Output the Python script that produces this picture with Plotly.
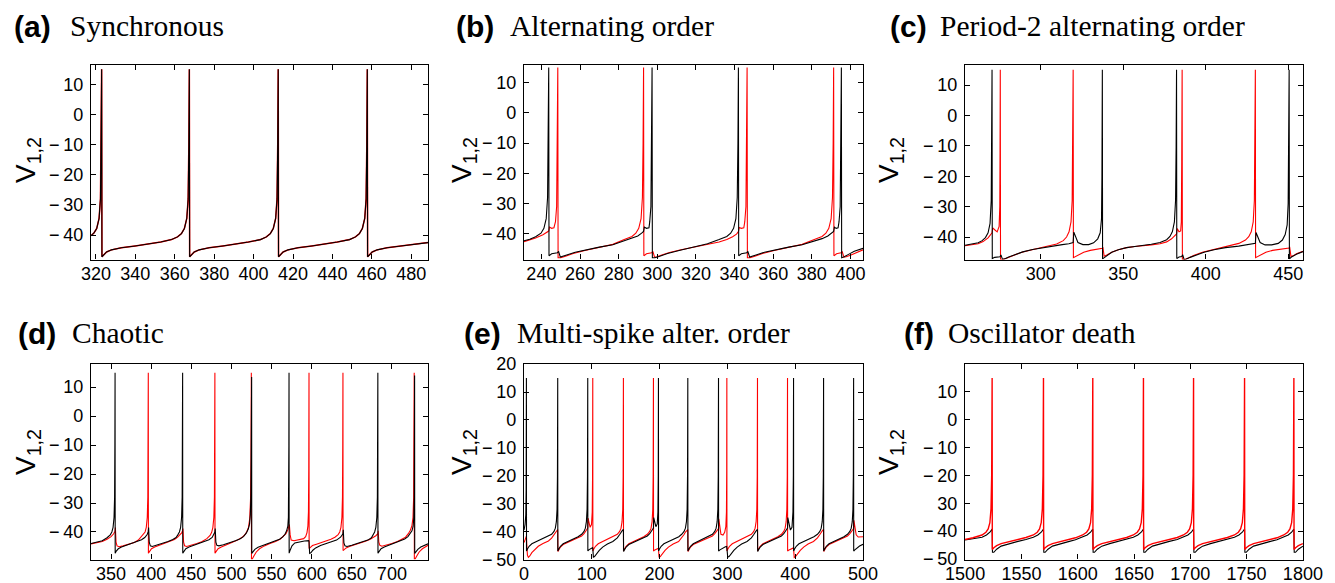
import plotly.graph_objects as go

# ---------------- data (time, membrane potential) ----------------
a_black = [(317.5,-40.2),(319,-39.3),(320.4,-37.8),(321.6,-34.5),(322.3,-28),(322.65,-10),(322.9,15),
(323.05,-47.2),(323.9,-46.6),(325.4,-45.6),(327.9,-44.9),(332.9,-44.2),(339.9,-43.6),(346.9,-43.0),(352.9,-42.3),(358.4,-41.5),(361.4,-40.6),(363.4,-39.5),(364.9,-37.8),(366.1,-34.5),(366.8,-28),(367.15,-10),(367.4,15),
(367.55,-47.2),(368.4,-46.6),(369.9,-45.6),(372.4,-44.9),(377.4,-44.2),(384.4,-43.6),(391.4,-43.0),(397.4,-42.3),(403.5,-41.5),(406.5,-40.6),(408.5,-39.5),(410.0,-37.8),(411.2,-34.5),(411.9,-28),(412.25,-10),(412.5,15),
(412.65,-47.2),(413.5,-46.6),(415.0,-45.6),(417.5,-44.9),(422.5,-44.2),(429.5,-43.6),(436.5,-43.0),(442.5,-42.3),(448.7,-41.5),(451.7,-40.6),(453.7,-39.5),(455.2,-37.8),(456.4,-34.5),(457.1,-28),(457.45,-10),(457.7,15),
(457.85,-47.2),(458.7,-46.6),(460.2,-45.6),(462.7,-44.9),(467.7,-44.2),(474.7,-43.6),(481.7,-43.0),(488.5,-42.5)]
a_red = list(a_black)

b_black = [(231,-42.3),(234,-41.8),(237,-41.0),(239.8,-39.8),(241.3,-38.2),(242.5,-35),(243.2,-28),(243.55,-10),(243.8,15),
(243.95,-47.3),(245.3,-46.6),(248.3,-46.3),(248.9,-45.8),(249.8,-47.7),(251,-47.5),(253.5,-46.9),(257.5,-46.1),(263.5,-45.2),(270,-44.4),(277,-43.6),(282.9,-42.3),(286.9,-41.6),(289.9,-40.7),(291.9,-39.8),(292.9,-39.2),(293.3,-37.8),(294.4,-38.2),(295.7,-38.0),(296.1,-36),(296.7,-31),(297.05,-12),(297.3,15),
(297.45,-47.9),(298.8,-47.9),(301.3,-47.4),(305.3,-46.5),(311.3,-45.5),(319.3,-44.4),(326,-43.3),(332,-41.9),(336,-40.9),(338,-39.8),(339.5,-38.2),(340.7,-35),(341.4,-28),(341.75,-10),(342,15),
(342.15,-47.3),(343.5,-46.6),(346.3,-46.3),(346.9,-45.8),(347.8,-47.7),(349,-47.5),(351.5,-46.9),(355.5,-46.1),(361.5,-45.2),(368,-44.4),(375,-43.6),(381.3,-42.4),(385.3,-41.6),(388.3,-40.7),(390.3,-39.8),(391.3,-39.2),(391.7,-37.8),(392.6,-38.2),(393.6,-38.0),(394.1,-36),(394.7,-31),(395.05,-12),(395.3,15),
(395.45,-47.9),(396.8,-47.6),(399,-46.8),(402,-45.8),(406.5,-44.8)]
b_red = [(231,-42.6),(234,-42.1),(237,-41.4),(240.8,-40.3),(242.8,-39.6),(243.8,-39.1),(244.2,-37.8),(245.3,-38.2),(246.5,-38.0),(247.3,-36),(247.9,-31),(248.25,-12),(248.5,15),
(248.65,-47.9),(250,-47.9),(252.5,-47.4),(256.5,-46.5),(262.5,-45.5),(270,-44.5),(277,-43.5),(282.9,-41.9),(286.9,-40.9),(288.9,-39.8),(290.4,-38.2),(291.6,-35),(292.3,-28),(292.65,-10),(292.9,15),
(293.05,-47.3),(294.4,-46.6),(297.1,-46.3),(297.7,-45.8),(298.6,-47.7),(299.8,-47.6),(302.3,-47.0),(306.3,-46.2),(312.3,-45.3),(319.3,-44.4),(326,-43.6),(332,-42.7),(336,-41.9),(339,-41.0),(341,-40.1),(342,-39.3),(342.4,-37.9),(343.5,-38.2),(344.8,-38.0),(345.3,-36),(345.9,-31),(346.25,-12),(346.5,15),
(346.65,-47.9),(348,-47.9),(350.5,-47.4),(354.5,-46.5),(360.5,-45.5),(368,-44.5),(375,-43.5),(381.3,-41.9),(385.3,-40.9),(387.3,-39.8),(388.8,-38.2),(390,-35),(390.7,-28),(391.05,-10),(391.3,15),
(391.45,-47.3),(392.8,-46.6),(395.1,-46.3),(395.7,-45.8),(396.6,-47.7),(397.8,-47.6),(400.3,-47.0),(403.5,-46.1),(406.5,-45.3)]

c_black = [(254,-42.7),(258,-42.4),(262,-41.9),(264.4,-41.2),(266.4,-40.2),(268,-38.6),(269.2,-35.5),(269.9,-28),(270.2,-10),(270.4,15),
(270.55,-47.1),(272,-46.7),(275.2,-46.5),(275.8,-45.9),(276.7,-47.3),(278,-47.2),(280.5,-46.6),(284,-45.8),(289,-44.9),(295,-44.1),(302,-43.4),(309.6,-42.8),(313,-42.5),(317,-42.2),(319.6,-41.8),(320.0,-38.4),(321,-39.8),(322.5,-41.8),(325.5,-42.5),(329,-42.5),(332,-41.9),(334.5,-40.6),(336,-38.6),(336.8,-34),(337.05,-20),(337.3,15),
(337.45,-47.2),(338.5,-46.8),(340,-46.0),(343,-45.0),(347,-44.2),(352,-43.5),(357,-43.1),(362,-42.8),(367,-42.4),(372.3,-41.8),(376.3,-40.9),(378.3,-39.8),(379.8,-38.2),(381,-35),(381.7,-28),(382.05,-10),(382.3,15),
(382.45,-47.1),(383.8,-46.6),(385.5,-46.4),(386.0,-45.8),(386.9,-47.4),(388,-47.3),(390.5,-46.7),(394,-45.9),(399,-45.0),(405,-44.2),(412,-43.5),(420,-43.0),(425,-42.6),(430.1,-42.1),(430.5,-38.5),(431.5,-40.0),(433,-41.8),(436,-42.6),(440,-42.6),(444,-42.1),(446.5,-41.0),(448.2,-39.2),(449.4,-36),(450.0,-29),(450.35,-10),(450.6,15),
(450.75,-47.2),(452,-46.6),(455,-45.7),(459,-44.8)]
c_red = [(254,-42.9),(258,-42.6),(262,-42.2),(265,-41.5),(268,-40.3),(270.4,-38.6),(270.8,-37.0),(272,-37.6),(273.5,-38.3),(274.7,-36.5),(275.1,-30),(275.25,-12),(275.4,15),
(275.55,-47.4),(277,-47.4),(279.5,-46.9),(283,-46.1),(288,-45.1),(294,-44.3),(301,-43.5),(305.6,-43.0),(309.6,-42.3),(313.6,-41.2),(315.6,-40.0),(317.1,-38.3),(318.3,-35),(319.0,-28),(319.35,-10),(319.6,15),
(319.75,-46.8),(321,-46.4),(323,-45.7),(326,-45.0),(330,-44.4),(334,-44.0),(337.3,-43.7),(337.6,-43.3),(338.4,-46.3),(340,-45.9),(343,-45.0),(347,-44.2),(352,-43.5),(357,-43.1),(362,-42.9),(367,-42.6),(372.3,-42.2),(376.3,-41.6),(379.3,-40.6),(381.3,-39.6),(382.3,-39.0),(382.7,-37.2),(383.8,-38.3),(384.8,-38.0),(385.2,-35),(385.45,-15),(385.7,15),
(385.85,-47.4),(387.2,-47.4),(389.5,-46.9),(393,-46.0),(398,-45.0),(404,-44.2),(410,-43.4),(415,-42.8),(420.1,-42.1),(424.1,-41.0),(426.1,-39.9),(427.6,-38.3),(428.8,-35),(429.5,-28),(429.85,-10),(430.1,15),
(430.25,-46.8),(431.5,-46.4),(433.5,-45.7),(436.5,-45.0),(440.5,-44.4),(445,-44.0),(450.6,-43.6),(450.9,-43.2),(451.7,-46.4),(453,-46.2),(455,-45.5),(459,-44.7)]

d_black = [(325,-44.0),(332,-43.6),(339,-43.0),(345,-42.0),(349,-41.0),(351,-40.0),(352.5,-38.4),(353.7,-35),(354.4,-28),(354.75,-10),(355.0,15),
(355.15,-47.3),(356.5,-46.6),(359,-45.8),(363,-45.2),(369,-44.6),(376,-44.0),(383,-43.3),(388,-42.7),(392,-41.9),(395,-40.9),(396.4,-39.8),(396.8,-38.5),(397.6,-43.5),(398.9,-44.8),(401.4,-45.0),(406.4,-44.6),(414,-44.0),(421,-43.3),(427,-42.6),(431,-41.9),(433.2,-41.0),(435.2,-40.0),(436.7,-38.4),(437.9,-35),(438.6,-28),(438.95,-10),(439.2,15),
(439.35,-47.3),(440.7,-46.6),(443.2,-45.8),(447.2,-45.2),(453,-44.6),(460,-44.0),(467,-43.3),(472,-42.7),(476,-41.9),(478,-41.0),(479.4,-40.0),(479.8,-38.8),(480.6,-43.5),(481.9,-44.6),(484.4,-44.8),(490,-44.4),(497,-43.8),(505,-43.0),(511,-42.3),(515,-41.6),(518.5,-40.4),(521,-39.0),(522.6,-37.3),(523.6,-34),(524.3,-27),(524.7,-15),(525.0,-5),(525.2,13.5),
(525.35,-47.4),(526.7,-46.8),(529.2,-46.0),(533.2,-45.3),(540,-44.6),(547,-44.0),(554,-43.3),(560,-42.5),(564,-41.7),(566.8,-40.8),(568.8,-39.6),(570.3,-38.0),(571.0,-35),(571.45,-25),(571.6,-10),(571.8,15),
(571.95,-47.3),(573.3,-46.2),(575.5,-44.8),(579,-43.8),(585,-43.4),(591,-43.1),(596.3,-43.0),(596.7,-43.3),(597.5,-47.4),(599,-47.2),(601.5,-46.3),(605,-45.5),(611,-44.7),(618,-44.1),(625,-43.5),(631,-42.8),(636,-41.8),(639.0,-40.6),(639.4,-39.2),(640.2,-43.8),(641.5,-44.8),(644,-45.0),(650,-44.6),(657,-44.0),(664,-43.4),(670,-42.8),(674.5,-42.0),(676.5,-41.0),(678.5,-40.0),(680.0,-38.4),(681.2,-35),(681.9,-28),(682.25,-10),(682.5,15),
(682.65,-47.3),(684,-46.6),(686.5,-45.8),(690.5,-45.2),(696,-44.6),(703,-43.9),(710,-43.2),(716,-42.4),(720,-41.6),(723,-40.6),(725,-39.6),(726.5,-38.0),(727.3,-35),(727.8,-28),(728.1,-10),(728.3,14.0),
(728.45,-47.4),(729.8,-46.8),(732.3,-46.0),(736,-45.2),(740,-44.6),(745,-44.1)]
d_red = [(325,-44.1),(332,-43.8),(339,-43.3),(345,-42.5),(350,-41.6),(353,-40.7),(355.0,-39.8),(355.4,-38.5),(356.2,-43.5),(357.5,-44.8),(360,-45.1),(365,-44.8),(372,-44.3),(379,-43.6),(384,-42.8),(386.4,-42.0),(390.4,-41.0),(392.4,-40.0),(393.9,-38.4),(395.1,-35),(395.8,-28),(396.15,-10),(396.4,15),
(396.55,-47.3),(397.9,-46.6),(400.4,-45.8),(404.4,-45.2),(410,-44.6),(417,-44.0),(424,-43.3),(429,-42.6),(433,-41.8),(436,-41.0),(438,-40.3),(439.2,-39.6),(439.6,-38.8),(440.4,-43.5),(441.7,-44.8),(444.2,-45.0),(450,-44.6),(457,-44.0),(463,-43.4),(469.4,-42.3),(473.4,-41.2),(475.4,-40.1),(476.9,-38.4),(478.1,-35),(478.8,-28),(479.15,-10),(479.4,15),
(479.55,-47.3),(480.9,-46.6),(483.4,-45.8),(487.4,-45.2),(493,-44.6),(500,-43.8),(507,-42.9),(512,-42.1),(516,-41.2),(519,-40.0),(521.3,-38.4),(522.8,-35.5),(523.8,-29),(524.4,-15),(524.8,15),
(525.0,-49.3),(526,-49.3),(528,-48.3),(531,-46.9),(535,-45.8),(541,-44.8),(548,-44.0),(555,-43.3),(561,-42.4),(565,-41.5),(568,-40.6),(570.5,-39.2),(571.8,-38.0),(572.2,-37.4),(573.2,-41.0),(574.5,-42.8),(578,-43.0),(585,-42.7),(590,-42.3),(592.5,-41.6),(594.2,-40.2),(595.3,-38),(596.0,-33),(596.4,-18),(596.7,15),
(596.85,-45.7),(598.5,-45.3),(601,-44.7),(606,-44.2),(612,-43.7),(618,-43.2),(624,-42.5),(629,-41.8),(633,-40.9),(635,-40.0),(636.5,-38.4),(637.7,-35),(638.4,-28),(638.75,-10),(639.0,15),
(639.15,-46.4),(640.5,-46.1),(643,-45.5),(647,-45.0),(653,-44.5),(660,-43.9),(667,-43.2),(673,-42.5),(677,-41.9),(680,-41.3),(682.5,-40.6),(682.9,-39.6),(683.7,-43.5),(685,-44.6),(687.5,-44.9),(693,-44.6),(700,-44.0),(707,-43.3),(713,-42.5),(717,-41.8),(720.5,-40.6),(723,-39.4),(725,-37.8),(726.3,-35),(727.1,-28),(727.6,-12),(727.8,15),
(728.0,-49.3),(729,-49.3),(731,-48.3),(734,-46.9),(738,-45.8),(745,-44.6)]

e_black = [(0,-39.5),(1.5,-37.5),(2.6,-34),(3.1,-25),(3.5,15),
(3.65,-47.0),(5,-46.3),(7.5,-45.3),(11.5,-44.4),(18.5,-43.6),(26.5,-42.8),(33.5,-41.9),(40.7,-41.0),(44.2,-40.0),(46.2,-38.8),(47.7,-36.5),(48.7,-32),(49.3,-20),(49.7,15),
(49.85,-47.0),(51.2,-46.3),(53.7,-45.3),(57.7,-44.4),(64.7,-43.6),(72.7,-42.8),(79.7,-41.9),(85.0,-41.0),(88.5,-40.0),(90.5,-38.8),(92.0,-36.5),(93.0,-32),(93.6,-20),(94.0,15),
(94.15,-47.0),(96,-46.5),(99,-46.0),(101.2,-45.8),(101.6,-46.5),(102.3,-49.2),(104,-49.0),(107,-48.0),(111,-46.8),(116,-45.6),(123,-44.5),(131,-43.6),(137.6,-42.3),(141.1,-41.1),(143.1,-40.2),(145.1,-39.6),(146.6,-39.3),(146.9,-47.2),(148.1,-46.6),(150.6,-45.6),(154.6,-44.7),(161.6,-43.9),(169.6,-43.1),(176.6,-42.3),(181.9,-41.6),(185.4,-40.8),(187.4,-40.0),(189.4,-39.3),(190.9,-38.8),(191.3,-35.0),(192.5,-36.3),(194.5,-38.3),(196.5,-37.3),(197.5,-33),(198.0,-20),(198.3,15),
(198.45,-47.0),(199.8,-46.3),(202.3,-45.3),(206.3,-44.4),(213.3,-43.6),(221.3,-42.8),(228.3,-41.9),(232.6,-41.0),(236.1,-40.0),(238.1,-38.8),(239.6,-36.5),(240.6,-32),(241.2,-20),(241.6,15),
(241.75,-47.0),(243.1,-46.3),(245.6,-45.3),(249.6,-44.4),(256.6,-43.6),(264.6,-42.8),(271.6,-41.9),(277.9,-41.0),(281.4,-40.0),(283.4,-38.8),(284.9,-36.5),(285.9,-32),(286.5,-20),(286.9,15),
(287.05,-47.0),(289,-46.6),(293,-45.9),(297,-45.5),(299.0,-45.4),(299.4,-46.3),(300.5,-49.2),(302.5,-49.0),(305.5,-48.0),(309.5,-46.8),(314.5,-45.6),(321,-44.5),(329,-43.6),(335.4,-42.3),(338.9,-41.1),(340.9,-40.2),(342.9,-39.6),(344.4,-39.3),(344.7,-47.2),(345.9,-46.6),(348.4,-45.6),(352.4,-44.7),(359.4,-43.9),(367.4,-43.1),(374.4,-42.3),(379.7,-41.6),(383.2,-40.8),(385.2,-40.0),(387.2,-39.3),(388.7,-38.8),(389.1,-35.0),(390.5,-37.0),(393,-39.5),(395.3,-38.5),(396.7,-33),(397.3,-20),(397.6,15),
(397.75,-47.0),(399.1,-46.3),(401.6,-45.3),(405.6,-44.4),(412.6,-43.6),(420.6,-42.8),(427.6,-41.9),(432.9,-41.0),(436.4,-40.0),(438.4,-38.8),(439.9,-36.5),(440.9,-32),(441.5,-20),(441.9,15),
(442.05,-47.0),(443.4,-46.3),(445.9,-45.3),(449.9,-44.4),(456.9,-43.6),(464.9,-42.8),(471.9,-41.9),(477.2,-41.0),(480.7,-40.0),(482.7,-38.8),(484.2,-36.5),(485.2,-32),(485.8,-20),(486.2,15),
(486.35,-47.0),(488,-46.6),(491,-45.9),(495,-45.2),(500,-44.6)]
e_red = [(0,-44.0),(2.5,-42.5),(3.5,-41.7),(4.0,-44.5),(5.0,-48.5),(6.4,-49.3),(8.5,-48.8),(11.5,-47.6),(15.5,-46.5),(21,-45.3),(28,-44.3),(36,-43.4),(40.7,-42.4),(44.2,-41.3),(46.2,-40.4),(48.2,-39.7),(49.7,-39.3),(50.0,-47.2),
(51.2,-46.6),(53.7,-45.6),(57.7,-44.7),(64.7,-43.9),(72.7,-43.1),(79.7,-42.3),(85,-41.6),(88.5,-40.8),(90.5,-40.0),(92.5,-39.3),(94.0,-38.8),(94.4,-35.2),(95.5,-36.5),(97.5,-38.5),(99.5,-37.5),(100.6,-33),(101.1,-20),(101.4,15),
(101.55,-47.0),(102.9,-46.3),(105.4,-45.3),(109.4,-44.4),(116.4,-43.6),(124.4,-42.8),(131.4,-41.9),(137.6,-41.0),(141.1,-40.0),(143.1,-38.8),(144.6,-36.5),(145.6,-32),(146.2,-20),(146.6,15),
(146.75,-47.0),(148.1,-46.3),(150.6,-45.3),(154.6,-44.4),(161.6,-43.6),(169.6,-42.8),(176.6,-41.9),(181.9,-41.0),(185.4,-40.0),(187.4,-38.8),(188.9,-36.5),(189.9,-32),(190.5,-20),(190.9,15),
(191.05,-47.0),(193,-46.6),(196,-46.2),(198.1,-46.0),(198.5,-46.8),(199.2,-49.3),(201,-49.0),(204,-48.0),(208,-46.8),(213,-45.6),(220,-44.5),(228,-43.6),(232.6,-42.3),(236.1,-41.1),(238.1,-40.2),(240.1,-39.6),(241.6,-39.3),(241.9,-47.2),(243.1,-46.6),(245.6,-45.6),(249.6,-44.7),(256.6,-43.9),(264.6,-43.1),(271.6,-42.3),(277.9,-41.6),(281.4,-40.8),(283.4,-40.0),(285.4,-39.3),(286.9,-39.0),(287.3,-35.5),(288.5,-38.5),(290.5,-41.0),(293.5,-41.3),(296,-40.3),(297.7,-38.3),(298.6,-33),(299.0,-18),(299.2,15),
(299.35,-47.0),(300.7,-46.3),(303.2,-45.3),(307.2,-44.4),(314.2,-43.6),(322.2,-42.8),(329.2,-41.9),(335.4,-41.0),(338.9,-40.0),(340.9,-38.8),(342.4,-36.5),(343.4,-32),(344.0,-20),(344.4,15),
(344.55,-47.0),(345.9,-46.3),(348.4,-45.3),(352.4,-44.4),(359.4,-43.6),(367.4,-42.8),(374.4,-41.9),(379.7,-41.0),(383.2,-40.0),(385.2,-38.8),(386.7,-36.5),(387.7,-32),(388.3,-20),(388.7,15),
(388.85,-47.0),(391,-46.6),(394,-46.2),(397.4,-45.9),(397.8,-46.8),(398.6,-49.3),(400.5,-49.0),(403.5,-48.0),(407.5,-46.8),(412.5,-45.6),(419,-44.5),(427,-43.6),(432.9,-42.3),(436.4,-41.1),(438.4,-40.2),(440.4,-39.6),(441.9,-39.3),(442.2,-47.2),(443.4,-46.6),(445.9,-45.6),(449.9,-44.7),(456.9,-43.9),(464.9,-43.1),(471.9,-42.3),(477.2,-41.6),(480.7,-40.8),(482.7,-40.0),(484.7,-39.3),(486.2,-39.0),(486.6,-36.0),(488,-38.5),(490,-41.2),(493,-42.0),(500,-41.9)]

f_black = [(1500,-43.2),(1507,-42.8),(1515,-42.2),(1519,-41.4),(1522,-40.4),(1524.0,-39.3),(1524.3,-47.6),
(1525.5,-47.6),(1528,-46.5),(1532,-45.4),(1539,-44.5),(1547,-43.7),(1554,-43.0),(1560.6,-42.2),(1564.6,-41.4),(1567.6,-40.4),(1569.6,-39.3),(1569.9,-47.6),
(1571.1,-47.6),(1573.6,-46.5),(1577.6,-45.4),(1584.6,-44.5),(1592.6,-43.7),(1598,-43.1),(1604.4,-42.2),(1608.4,-41.4),(1611.4,-40.4),(1613.4,-39.3),(1613.7,-47.6),
(1614.9,-47.6),(1617.4,-46.5),(1621.4,-45.4),(1628.4,-44.5),(1636.4,-43.7),(1643.4,-43.0),(1649.4,-42.2),(1653.4,-41.4),(1656.4,-40.4),(1658.4,-39.3),(1658.7,-47.6),
(1659.9,-47.6),(1662.4,-46.5),(1666.4,-45.4),(1673.4,-44.5),(1681.4,-43.7),(1688.4,-43.0),(1693.9,-42.2),(1697.9,-41.4),(1700.9,-40.4),(1702.9,-39.3),(1703.2,-47.6),
(1704.4,-47.6),(1706.9,-46.5),(1710.9,-45.4),(1717.9,-44.5),(1725.9,-43.7),(1732.9,-43.0),(1739.2,-42.2),(1743.2,-41.4),(1746.2,-40.4),(1748.2,-39.3),(1748.5,-47.6),
(1749.7,-47.6),(1752.2,-46.5),(1756.2,-45.4),(1763.2,-44.5),(1771.2,-43.7),(1777,-43.1),(1783,-42.2),(1787,-41.4),(1790,-40.4),(1792.0,-39.3),(1792.3,-47.6),
(1793.5,-47.6),(1796,-46.5),(1800,-45.4)]
f_red = [(1500,-43.0),(1507,-42.4),(1515,-41.4),(1518.5,-40.4),(1520.5,-39.2),(1522,-37.0),(1523,-32),(1523.6,-20),(1524.0,15),
(1524.15,-46.6),(1525.5,-46.0),(1528,-45.2),(1532,-44.5),(1539,-43.8),(1547,-43.1),(1554,-42.3),(1560.6,-41.4),(1564.1,-40.4),(1566.1,-39.2),(1567.6,-37.0),(1568.6,-32),(1569.2,-20),(1569.6,15),
(1569.75,-46.6),(1571.1,-46.0),(1573.6,-45.2),(1577.6,-44.5),(1584.6,-43.8),(1592.6,-43.1),(1598,-42.4),(1604.4,-41.4),(1607.9,-40.4),(1609.9,-39.2),(1611.4,-37.0),(1612.4,-32),(1613.0,-20),(1613.4,15),
(1613.55,-46.6),(1614.9,-46.0),(1617.4,-45.2),(1621.4,-44.5),(1628.4,-43.8),(1636.4,-43.1),(1643.4,-42.3),(1649.4,-41.4),(1652.9,-40.4),(1654.9,-39.2),(1656.4,-37.0),(1657.4,-32),(1658.0,-20),(1658.4,15),
(1658.55,-46.6),(1659.9,-46.0),(1662.4,-45.2),(1666.4,-44.5),(1673.4,-43.8),(1681.4,-43.1),(1688.4,-42.3),(1693.9,-41.4),(1697.4,-40.4),(1699.4,-39.2),(1700.9,-37.0),(1701.9,-32),(1702.5,-20),(1702.9,15),
(1703.05,-46.6),(1704.4,-46.0),(1706.9,-45.2),(1710.9,-44.5),(1717.9,-43.8),(1725.9,-43.1),(1732.9,-42.3),(1739.2,-41.4),(1742.7,-40.4),(1744.7,-39.2),(1746.2,-37.0),(1747.2,-32),(1747.8,-20),(1748.2,15),
(1748.35,-46.6),(1749.7,-46.0),(1752.2,-45.2),(1756.2,-44.5),(1763.2,-43.8),(1771.2,-43.1),(1777,-42.4),(1783,-41.4),(1786.5,-40.4),(1788.5,-39.2),(1790,-37.0),(1791,-32),(1791.6,-20),(1792.0,15),
(1792.15,-46.6),(1793.5,-46.0),(1796,-45.2),(1800,-44.5)]

# tick values / labels
a_xticks = [320, 340, 360, 380, 400, 420, 440, 460, 480]
b_xticks = [240, 260, 280, 300, 320, 340, 360, 380, 400]
c_xticks = [300, 350, 400, 450]
d_xticks = [350, 400, 450, 500, 550, 600, 650, 700]
e_xticks = [0, 100, 200, 300, 400, 500]
f_xticks = [1500, 1550, 1600, 1650, 1700, 1750, 1800]
std_yticks = [-40, -30, -20, -10, 0, 10]
e_yticks = [-50, -40, -30, -20, -10, 0, 10, 20]
f_yticks = [-50, -40, -30, -20, -10, 0, 10]
std_yticklabels = ["\u2212\u200940", "\u2212\u200930", "\u2212\u200920", "\u2212\u200910", "0", "10"]
e_yticklabels = ["\u2212\u200950", "\u2212\u200940", "\u2212\u200930", "\u2212\u200920", "\u2212\u200910", "0", "10", "20"]
f_yticklabels = ["\u2212\u200950", "\u2212\u200940", "30", "\u2212\u200920", "\u2212\u200910", "0", "10"]

panel_letters = ["(a)", "(b)", "(c)", "(d)", "(e)", "(f)"]
panel_titles = ["Synchronous", "Alternating order", "Period-2 alternating order",
                "Chaotic", "Multi-spike alter. order", "Oscillator death"]

# ---------------- layout geometry ----------------
W, H = 1335, 583
col_px = [(91, 428), (524, 863), (965, 1303)]
row_px = [(65, 259.5), (364, 559.5)]

panels = [
    dict(black=a_black, red=a_red, xr=[317.5, 488.5], yr=[-48.1, 16.4], xt=a_xticks, yt=std_yticks, ytt=std_yticklabels, red_top=False, rw=1.5),
    dict(black=b_black, red=b_red, xr=[231, 406.5], yr=[-48.5, 15.8], xt=b_xticks, yt=std_yticks, ytt=std_yticklabels, red_top=False, rw=1.1),
    dict(black=c_black, red=c_red, xr=[254, 459], yr=[-47.4, 16.6], xt=c_xticks, yt=std_yticks, ytt=std_yticklabels, red_top=False, rw=1.1),
    dict(black=d_black, red=d_red, xr=[325, 745], yr=[-49.5, 18.0], xt=d_xticks, yt=std_yticks, ytt=std_yticklabels, red_top=False, rw=1.1),
    dict(black=e_black, red=e_red, xr=[-0.05, 500.05], yr=[-50.05, 20.05], xt=e_xticks, yt=e_yticks, ytt=e_yticklabels, red_top=False, rw=1.1),
    dict(black=f_black, red=f_red, xr=[1499.9, 1800.1], yr=[-50.2, 20.0], xt=f_xticks, yt=f_yticks, ytt=f_yticklabels, red_top=True, rw=1.4),
]

fig = go.Figure()
tickfont = dict(family="Liberation Sans, Arial, Helvetica, sans-serif", size=18, color="black")

for i, p in enumerate(panels):
    r, c = divmod(i, 3)
    n = "" if i == 0 else str(i + 1)
    xa, ya = "x" + n, "y" + n
    bt, bv = zip(*p["black"])
    rt, rv = zip(*p["red"])
    tr_black = go.Scatter(x=bt, y=bv, mode="lines", line=dict(color="black", width=1.1),
                          xaxis=xa, yaxis=ya, showlegend=False, hoverinfo="skip")
    tr_red = go.Scatter(x=rt, y=rv, mode="lines", line=dict(color="#ff0000", width=p["rw"]),
                        xaxis=xa, yaxis=ya, showlegend=False, hoverinfo="skip")
    if p["red_top"]:
        fig.add_trace(tr_black); fig.add_trace(tr_red)
    else:
        fig.add_trace(tr_red); fig.add_trace(tr_black)

    x0, x1 = col_px[c]
    y0, y1 = row_px[r]
    common = dict(showline=True, linecolor="black", linewidth=1.4, mirror="ticks",
                  ticks="inside", ticklen=5, tickwidth=1, tickcolor="black",
                  showgrid=False, zeroline=False, tickfont=tickfont, fixedrange=True,
                  automargin=False)
    fig.layout["xaxis" + n] = dict(domain=[x0 / W, x1 / W], range=p["xr"], anchor=ya,
                                   tickmode="array", tickvals=p["xt"], ticklabelstandoff=-2, **common)
    fig.layout["yaxis" + n] = dict(domain=[1 - y1 / H, 1 - y0 / H], range=p["yr"], anchor=xa,
                                   tickmode="array", tickvals=p["yt"], ticktext=p["ytt"],
                                   ticklabelstandoff=3, **common)

# panel titles
letter_x = [12, 454, 888, 15.5, 462, 901.5]
title_x = [68, 508, 938, 70, 515, 946]
title_y = [26, 26, 26, 333, 333, 333]
ann = []
for i in range(6):
    ann.append(dict(text="<b>" + panel_letters[i] + "</b>", x=letter_x[i] / W, y=1 - title_y[i] / H,
                    xref="paper", yref="paper", xanchor="left", yanchor="middle", showarrow=False,
                    font=dict(family="Liberation Sans, Arial, sans-serif", size=30, color="black")))
    ann.append(dict(text=panel_titles[i], x=title_x[i] / W, y=1 - title_y[i] / H,
                    xref="paper", yref="paper", xanchor="left", yanchor="middle", showarrow=False,
                    font=dict(family="Liberation Serif, Times New Roman, serif", size=29.5, color="black")))

# y-axis labels
vlab_x = [27, 463, 890]
vlab_y = [160, 452]
for r in range(2):
    for c in range(3):
        ann.append(dict(text="V<sub>1,2</sub>", x=vlab_x[c] / W, y=1 - vlab_y[r] / H,
                        xref="paper", yref="paper", xanchor="center", yanchor="middle",
                        textangle=-90, showarrow=False,
                        font=dict(family="Liberation Sans, Arial, sans-serif", size=28, color="black")))

fig.update_layout(width=W, height=H, margin=dict(l=0, r=0, t=0, b=0, autoexpand=False),
                  paper_bgcolor="white", plot_bgcolor="white", annotations=ann)

fig.write_html("out.html", config={"displayModeBar": False},
               post_script="document.body.style.margin='0px';document.body.style.padding='0px';")
